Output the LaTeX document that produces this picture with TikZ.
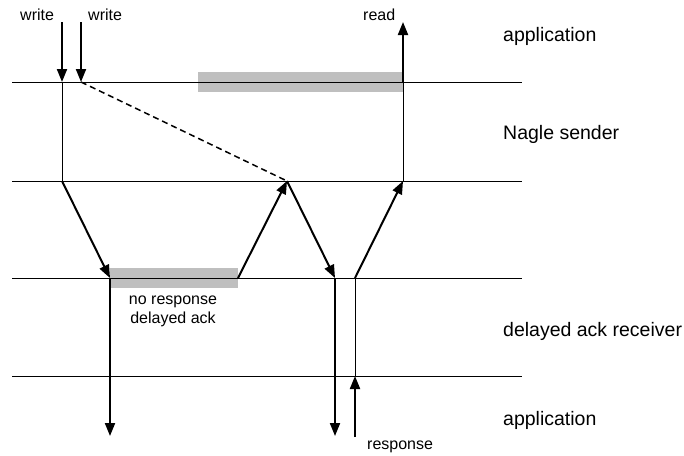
\documentclass[tikz,border=0pt]{standalone}
\usepackage{fontspec}
\setmainfont{Liberation Sans}
\usetikzlibrary{arrows.meta}
\begin{document}
\begin{tikzpicture}[x=1pt,y=-1pt,
  level/.style={line width=1pt},
  thin link/.style={line width=1pt},
  msg/.style={line width=2pt,-{Triangle[length=13pt,width=10pt]}},
  wait/.style={fill=black!25,draw=none},
  small/.style={font=\fontsize{16}{19}\selectfont,inner sep=0pt,anchor=base west},
  big/.style={font=\fontsize{19.5}{23}\selectfont,inner sep=0pt,anchor=base west}]
\useasboundingbox (0,0) rectangle (684,455);

% timing points
\coordinate (w1top) at (62,22);   \coordinate (w1) at (62,82);
\coordinate (w2top) at (81,22);   \coordinate (w2) at (81,82);
\coordinate (s1) at (62,181);
\coordinate (r1) at (110,278);    \coordinate (r1bot) at (110,436);
\coordinate (r2) at (238,278);
\coordinate (s2) at (287,181);
\coordinate (r3) at (335,278);    \coordinate (r3bot) at (335,436);
\coordinate (r4) at (355,278);    \coordinate (a4) at (355,376);
\coordinate (a4bot) at (355,437);
\coordinate (s3) at (403,181);
\coordinate (rd) at (403,82);     \coordinate (rdtop) at (403,22);

% waiting periods
\fill[wait] (198,72) rectangle (403,92);
\fill[wait] (110,268) rectangle (238,288);

% layer boundaries
\foreach \y in {82,181,278,376}
  \draw[level] (12,\y) -- (522,\y);

% sender side
\draw[msg] (w1top) -- (w1);
\draw[msg] (w2top) -- (w2);
\draw[thin link] (w1) -- (s1);
\draw[line width=1.5pt,dash pattern=on 6pt off 4pt] (w2) -- (s2);
\draw[thin link] (rd) -- (s3);
\draw[msg] (rd) -- (rdtop);

% segments between sender and receiver
\draw[msg] (s1) -- (r1);
\draw[msg] (r2) -- (s2);
\draw[msg] (s2) -- (r3);
\draw[msg] (r4) -- (s3);

% receiver side
\draw[msg] (r1) -- (r1bot);
\draw[msg] (r3) -- (r3bot);
\draw[thin link] (a4) -- (r4);
\draw[msg] (a4bot) -- (a4);

% labels
\node[small] (lw1) at (20,20) {write};
\node[small] (lw2) at (88,20) {write};
\node[small] (lrd) at (363,20) {read};
\node[small,anchor=base] (lnr) at (173,304) {no response};
\node[small,anchor=base] (lda) at (173,323) {delayed ack};
\node[small] (lresp) at (367,449) {response};

\node[big] (lapp1) at (503,41) {application};
\node[big] (lnagle) at (503,139) {Nagle sender};
\node[big] (lrecv) at (503,336) {delayed ack receiver};
\node[big] (lapp2) at (503,425) {application};
\end{tikzpicture}
\end{document}
